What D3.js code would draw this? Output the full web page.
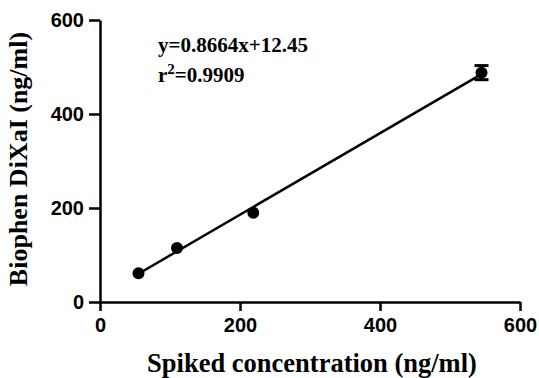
<!DOCTYPE html>
<html>
<head>
<meta charset="utf-8">
<script src="https://cdn.jsdelivr.net/npm/d3@7"></script>
<style>
  body { margin: 0; background: #fff; }
  svg { display: block; }
</style>
</head>
<body>
<div id="chart"></div>
<script>
// measured points (spiked vs measured)
var spiked = [55, 110, 219, 545];
var measured = [61, 115, 190, 488];
var errors = [0, 0, 0, 15];
var xTicks = [0, 200, 400, 600];
var yTicks = [0, 200, 400, 600];
var slope = 0.8664, intercept = 12.45;

var W = 539, H = 378;
var margin = { top: 20, right: 19, bottom: 76, left: 100 },
    width = W - margin.left - margin.right,
    height = H - margin.top - margin.bottom;

var svg = d3.select("#chart")
    .append("svg")
    .attr("width", W)
    .attr("height", H)
    .append("g")
    .attr("transform", "translate(" + margin.left + "," + margin.top + ")");

var x = d3.scaleLinear().domain([0, 600]).range([0, width]);
var y = d3.scaleLinear().domain([0, 600]).range([height, 0]);

// axes
var xAxis = svg.append("g")
    .attr("transform", "translate(0," + height + ")")
    .call(d3.axisBottom(x).tickValues(xTicks).tickSize(9).tickSizeOuter(0).tickPadding(7));
var yAxis = svg.append("g")
    .call(d3.axisLeft(y).tickValues(yTicks).tickSize(11).tickSizeOuter(0).tickPadding(5));

[xAxis, yAxis].forEach(function (a) {
    a.select(".domain").attr("stroke", "#000").attr("stroke-width", 2.5);
    a.selectAll(".tick line").attr("stroke", "#000").attr("stroke-width", 2.5);
    a.selectAll(".tick text")
        .attr("fill", "#000")
        .attr("font-family", "Liberation Sans, Arial, sans-serif")
        .attr("font-weight", "bold")
        .attr("font-size", "20px");
});

// fitted line
var x0 = d3.min(spiked), x1 = d3.max(spiked) - 6;
svg.append("line")
    .attr("x1", x(x0)).attr("y1", y(slope * x0 + intercept))
    .attr("x2", x(x1)).attr("y2", y(slope * x1 + intercept))
    .attr("stroke", "#000")
    .attr("stroke-width", 2.5);

// error bars
var pts = spiked.map(function (d, i) { return { x: d, y: measured[i], e: errors[i] }; });
var eb = svg.selectAll(".err")
    .data(pts.filter(function (d) { return d.e > 0; }))
    .enter().append("g");
eb.append("line")
    .attr("x1", function (d) { return x(d.x); }).attr("x2", function (d) { return x(d.x); })
    .attr("y1", function (d) { return y(d.y - d.e); }).attr("y2", function (d) { return y(d.y + d.e); })
    .attr("stroke", "#000").attr("stroke-width", 2.5);
eb.selectAll(".cap")
    .data(function (d) { return [d.y - d.e, d.y + d.e].map(function (v) { return { x: d.x, v: v }; }); })
    .enter().append("line")
    .attr("x1", function (d) { return x(d.x) - 7; }).attr("x2", function (d) { return x(d.x) + 7; })
    .attr("y1", function (d) { return y(d.v); }).attr("y2", function (d) { return y(d.v); })
    .attr("stroke", "#000").attr("stroke-width", 3);

// points
svg.selectAll(".pt")
    .data(pts)
    .enter()
    .append("circle")
    .attr("cx", function (d) { return x(d.x); })
    .attr("cy", function (d) { return y(d.y); })
    .attr("r", 6)
    .attr("fill", "#000");

// equation
var eq = svg.append("text")
    .attr("x", 58)
    .attr("y", 32)
    .attr("font-family", "Liberation Serif, Times New Roman, serif")
    .attr("font-weight", "bold")
    .attr("font-size", "21px")
    .attr("fill", "#000");
eq.append("tspan").text("y=" + slope + "x+" + intercept);
var r2 = svg.append("text")
    .attr("x", 58)
    .attr("y", 62)
    .attr("font-family", "Liberation Serif, Times New Roman, serif")
    .attr("font-weight", "bold")
    .attr("font-size", "21px")
    .attr("fill", "#000");
r2.append("tspan").text("r");
r2.append("tspan").attr("dy", -8).attr("font-size", "15px").text("2");
r2.append("tspan").attr("dy", 8).text("=0.9909");

// axis titles
svg.append("text")
    .attr("x", width / 2 + 2)
    .attr("y", height + 70)
    .attr("text-anchor", "middle")
    .attr("font-family", "Liberation Serif, Times New Roman, serif")
    .attr("font-weight", "bold")
    .attr("font-size", "26.5px")
    .text("Spiked concentration (ng/ml)");

svg.append("text")
    .attr("transform", "translate(-73," + (height / 2 - 2) + ") rotate(-90)")
    .attr("text-anchor", "middle")
    .attr("font-family", "Liberation Serif, Times New Roman, serif")
    .attr("font-weight", "bold")
    .attr("font-size", "26px")
    .text("Biophen DiXaI (ng/ml)");
</script>
</body>
</html>
